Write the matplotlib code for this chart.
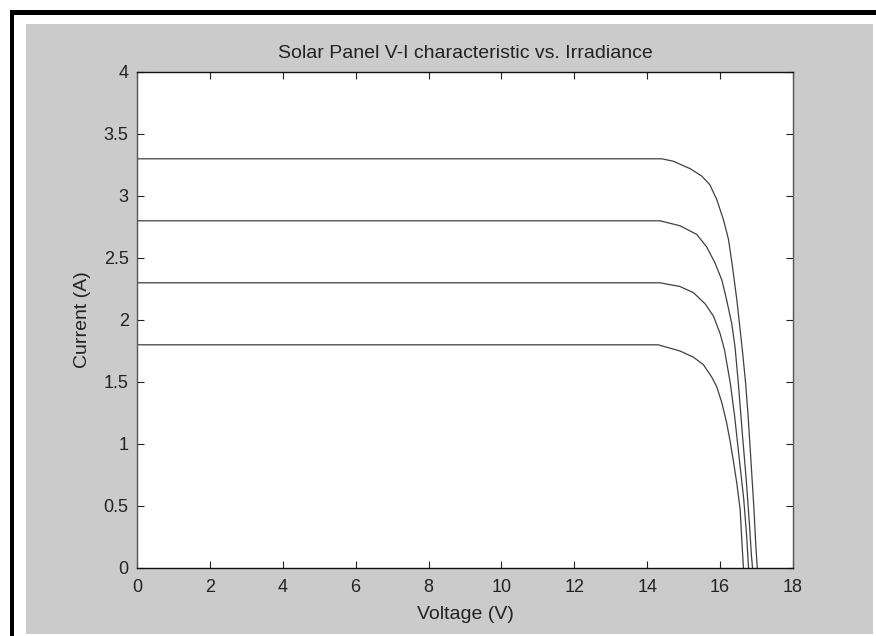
import matplotlib
matplotlib.use("Agg")
import matplotlib.pyplot as plt
from matplotlib.patches import Rectangle
from matplotlib.ticker import FormatStrFormatter

# I-V curves, one per irradiance level (short-circuit current).
v_33 = [0, 14.40, 14.72, 15.18, 15.50, 15.72, 15.91, 16.09, 16.23, 16.33, 16.46, 16.55, 16.62, 16.70, 16.77, 16.86, 16.93, 16.98, 17.02]
i_33 = [3.30, 3.30, 3.28, 3.22, 3.16, 3.09, 2.97, 2.81, 2.65, 2.45, 2.16, 1.92, 1.73, 1.49, 1.22, 0.80, 0.47, 0.18, 0.0]

v_28 = [0, 14.35, 14.90, 15.36, 15.63, 15.86, 16.05, 16.18, 16.32, 16.41, 16.50, 16.60, 16.72, 16.81, 16.86, 16.89]
i_28 = [2.80, 2.80, 2.76, 2.69, 2.59, 2.46, 2.32, 2.16, 1.97, 1.78, 1.49, 1.12, 0.70, 0.33, 0.10, 0.0]

v_23 = [0, 14.35, 14.90, 15.27, 15.59, 15.82, 16.00, 16.12, 16.28, 16.40, 16.50, 16.65, 16.73, 16.78]
i_23 = [2.30, 2.30, 2.27, 2.22, 2.13, 2.03, 1.89, 1.76, 1.49, 1.22, 0.95, 0.55, 0.25, 0.0]

v_18 = [0, 14.30, 14.90, 15.27, 15.54, 15.77, 15.91, 16.05, 16.18, 16.27, 16.36, 16.46, 16.55, 16.59, 16.64]
i_18 = [1.80, 1.80, 1.75, 1.70, 1.64, 1.54, 1.46, 1.33, 1.17, 1.03, 0.87, 0.68, 0.47, 0.25, 0.0]

curves = [(v_33, i_33), (v_28, i_28), (v_23, i_23), (v_18, i_18)]

x_ticks = [0, 2, 4, 6, 8, 10, 12, 14, 16, 18]
y_ticks = [0, 0.5, 1, 1.5, 2, 2.5, 3, 3.5, 4]

plt.rcParams["font.family"] = ["Liberation Sans", "DejaVu Sans"]

W, H = 876, 636
fig = plt.figure(figsize=(W / 100, H / 100), dpi=100, facecolor="white")

# grey MATLAB figure area and the black frame on top and left
fig.patches.append(Rectangle((26 / W, 1 - 634 / H), (873 - 26) / W, (634 - 24) / H,
                             transform=fig.transFigure, facecolor="#cbcbcb", edgecolor="none", zorder=-10))
fig.patches.append(Rectangle((10 / W, 1 - 15 / H), (W - 10) / W, 5 / H,
                             transform=fig.transFigure, facecolor="black", edgecolor="none", zorder=-9))
fig.patches.append(Rectangle((10 / W, 0), 4 / W, 1 - 10 / H,
                             transform=fig.transFigure, facecolor="black", edgecolor="none", zorder=-9))

ax = fig.add_axes([137 / W, 1 - 568 / H, (793 - 137) / W, (568 - 72) / H])
ax.set_zorder(5)
ax.set_facecolor("white")

for v, i in curves:
    ax.plot(v, i, color="#404040", linewidth=0.9)

ax.set_xlim(0, 18)
ax.set_ylim(0, 4)
ax.set_xticks(x_ticks)
ax.set_yticks(y_ticks)
ax.yaxis.set_major_formatter(FormatStrFormatter("%g"))
ax.tick_params(direction="in", length=5, width=0.8, top=True, right=True,
               labelsize=13, colors="#222222", pad=6)
ax.tick_params(axis="x", pad=8)

for side in ["bottom", "top"]:
    ax.spines[side].set_color("#111111")
    ax.spines[side].set_linewidth(1.0)
for side in ["left", "right"]:
    ax.spines[side].set_color("#555555")
    ax.spines[side].set_linewidth(1.0)

ax.set_xlabel("Voltage (V)", fontsize=14, color="#222222", labelpad=7)
ax.set_ylabel("Current (A)", fontsize=14, color="#222222", labelpad=9)
ax.set_title("Solar Panel V-I characteristic vs. Irradiance", fontsize=14, color="#222222", pad=10)

fig.savefig("out.png", dpi=100, facecolor=fig.get_facecolor())
